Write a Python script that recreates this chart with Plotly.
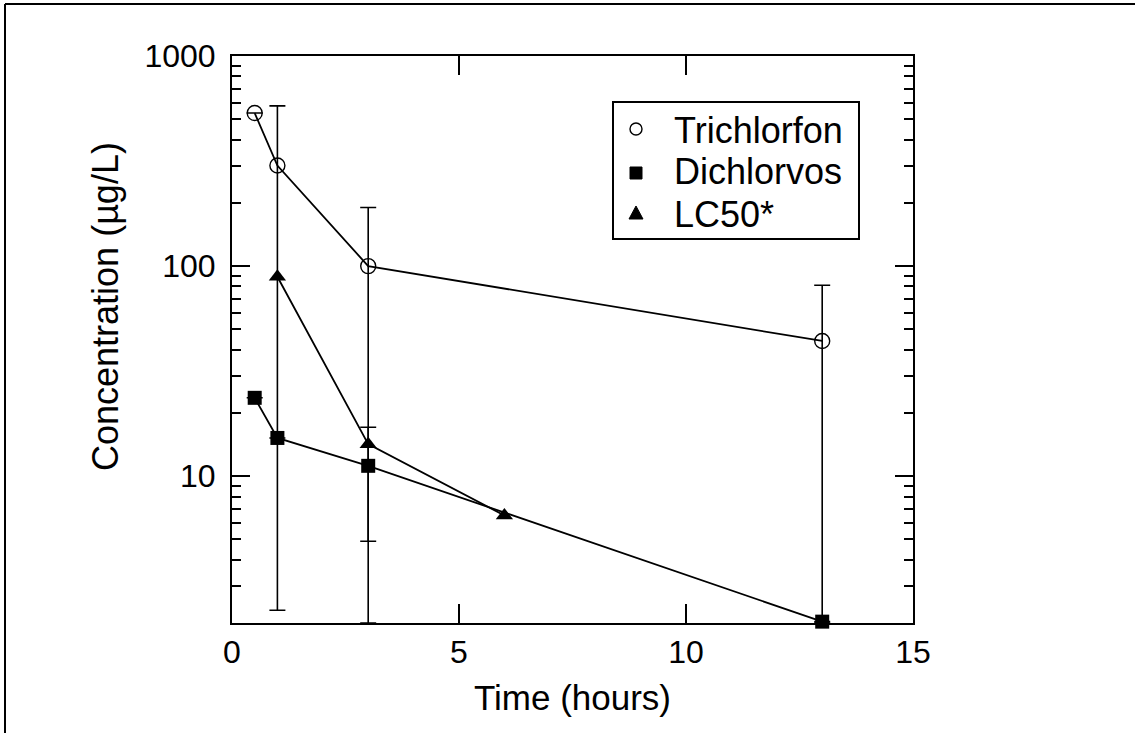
import plotly.graph_objects as go

# ---- data ----
tri_x = [0.5, 1, 3, 13]
tri_y = [535, 301, 100, 44]
tri_err_plus = [0, 278, 90, 37]
tri_err_minus = [0, 298.7, 98, 42]

dic_x = [0.5, 1, 3, 13]
dic_y = [23.6, 15.2, 11.2, 2.03]
dic_err_plus = [0, 0, 5.9, 0]
dic_err_minus = [0, 0, 6.3, 0]

lc_x = [1, 3, 6]
lc_y = [89, 14.2, 6.5]

series_names = ["Trichlorfon", "Dichlorvos", "LC50*"]

y_tickvals = [10, 100, 1000]
y_ticktext = ["10", "100", "1000"]
y_minor = [3, 4, 5, 6, 7, 8, 9, 20, 30, 40, 50, 60, 70, 80, 90,
           200, 300, 400, 500, 600, 700, 800, 900]
x_tickvals = [0, 5, 10, 15]

FONT = "Liberation Sans, Arial, sans-serif"

# plot area pixel geometry
L, R, T, B = 232, 913, 56, 623
W, H = 1135, 733
def px(x):
    return (x - L) / (R - L)
def py(y):
    return 1 - (y - T) / (B - T)

fig = go.Figure()

line = dict(color="black", width=1.8)
fig.add_trace(go.Scatter(
    x=tri_x, y=tri_y, mode="lines+markers", name=series_names[0], showlegend=False,
    line=line,
    marker=dict(symbol="circle-open", size=15, color="black", line=dict(width=1.4)),
    error_y=dict(type="data", symmetric=False, array=tri_err_plus,
                 arrayminus=tri_err_minus, color="black", thickness=1.6, width=8),
    cliponaxis=False,
))
fig.add_trace(go.Scatter(
    x=dic_x, y=dic_y, mode="lines+markers", name=series_names[1], showlegend=False,
    line=line,
    marker=dict(symbol="square", size=14, color="black"),
    error_y=dict(type="data", symmetric=False, array=dic_err_plus,
                 arrayminus=dic_err_minus, color="black", thickness=1.6, width=8),
    cliponaxis=False,
))
fig.add_trace(go.Scatter(
    x=lc_x, y=lc_y, mode="lines+markers", name=series_names[2], showlegend=False,
    line=line,
    marker=dict(symbol="triangle-up", size=15, color="black"),
    cliponaxis=False,
))

# ---- manual legend (box, symbols, labels) ----
box = dict(x0=613, x1=859, y0=102, y1=239)
sym_x = 636
rows_y = [129, 173, 213]
text_y = [128, 169, 212]
shapes = [
    # outer frame (top and left)
    dict(type="line", xref="paper", yref="paper", x0=px(5), x1=px(1135), y0=py(4), y1=py(4),
         line=dict(color="black", width=2)),
    dict(type="line", xref="paper", yref="paper", x0=px(5), x1=px(5), y0=py(4), y1=py(733),
         line=dict(color="black", width=2)),
    # legend box
    dict(type="rect", xref="paper", yref="paper", x0=px(box["x0"]), x1=px(box["x1"]),
         y0=py(box["y0"]), y1=py(box["y1"]), line=dict(color="black", width=2),
         fillcolor="white", layer="above"),
]
r = 6
shapes.append(dict(type="circle", xref="paper", yref="paper",
                   x0=px(sym_x - r), x1=px(sym_x + r), y0=py(rows_y[0] - r), y1=py(rows_y[0] + r),
                   line=dict(color="black", width=1.4), fillcolor="white", layer="above"))
shapes.append(dict(type="rect", xref="paper", yref="paper",
                   x0=px(sym_x - r), x1=px(sym_x + r), y0=py(rows_y[1] - r), y1=py(rows_y[1] + r),
                   line=dict(color="black", width=1), fillcolor="black", layer="above"))
tri_path = "M {:.5f} {:.5f} L {:.5f} {:.5f} L {:.5f} {:.5f} Z".format(
    px(sym_x - 7), py(rows_y[2] + 6), px(sym_x + 7), py(rows_y[2] + 6), px(sym_x), py(rows_y[2] - 7))
shapes.append(dict(type="path", xref="paper", yref="paper", path=tri_path,
                   line=dict(color="black", width=1), fillcolor="black", layer="above"))

annotations = [
    dict(text=name, xref="paper", yref="paper", x=px(672), y=py(ty + 2),
         xanchor="left", yanchor="middle", showarrow=False,
         font=dict(size=36, family=FONT, color="black"))
    for name, ty in zip(series_names, text_y)
]
annotations.append(dict(text="Concentration (µg/L)", xref="paper", yref="paper",
                        x=px(105), y=py(307), textangle=-90, xanchor="center", yanchor="middle",
                        showarrow=False, font=dict(size=36, family=FONT, color="black")))

fig.update_layout(
    width=W, height=H,
    margin=dict(l=L, r=W - R, t=T, b=H - B, autoexpand=False),
    paper_bgcolor="white", plot_bgcolor="white",
    font=dict(family=FONT, color="black", size=32),
    showlegend=False,
    xaxis=dict(range=[0, 15], tickmode="array", tickvals=x_tickvals,
               ticks="inside", ticklen=19, tickwidth=1.5, tickcolor="black",
               showline=True, linecolor="black", linewidth=2, mirror="ticks",
               showgrid=False, zeroline=False,
               tickfont=dict(size=32, family=FONT),
               title=dict(text="Time (hours)", font=dict(size=35, family=FONT), standoff=16)),
    yaxis=dict(type="log", range=[0.301, 3], tickmode="array",
               tickvals=y_tickvals, ticktext=y_ticktext,
               ticks="inside", ticklen=18, tickwidth=1.5, tickcolor="black",
               minor=dict(tickmode="array", tickvals=y_minor, ticks="inside",
                          ticklen=9, tickwidth=1.5, tickcolor="black", showgrid=False),
               showline=True, linecolor="black", linewidth=2, mirror="ticks",
               showgrid=False, zeroline=False,
               ticklabelstandoff=8,
               tickfont=dict(size=32, family=FONT)),
    shapes=shapes,
    annotations=annotations,
)

fig.write_html("out.html")
